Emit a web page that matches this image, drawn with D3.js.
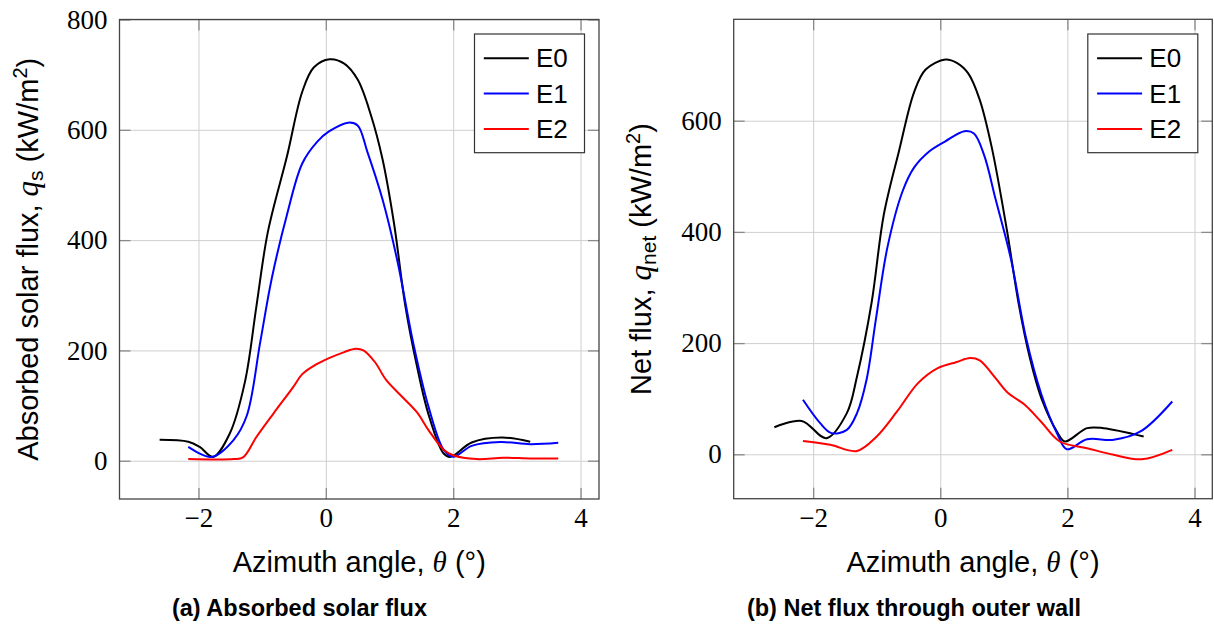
<!DOCTYPE html>
<html>
<head>
<meta charset="utf-8">
<script src="https://cdn.jsdelivr.net/npm/d3@7"></script>
<style>
  body { margin: 0; background: #fff; }
  svg { display: block; }
</style>
</head>
<body>
<div id="chart"></div>
<script>
/* Absorbed solar flux and net flux vs azimuth angle, three cases */

// legend / series names
const seriesNames = ["E0", "E1", "E2"];
const seriesColors = ["#000000", "#0000ff", "#ff0000"];

// (a) absorbed solar flux
const thetaA0 = [-2.61, -2.16, -1.98, -1.77, -1.51, -1.27, -1.09, -0.91, -0.61, -0.37, -0.19, 0.06, 0.29, 0.50, 0.71, 0.89, 1.07, 1.25, 1.43, 1.61, 1.85, 1.96, 2.29, 2.76, 3.21];
const qsE0 = [38, 34.5, 25, 7, 49, 143, 280, 415, 552, 669, 713, 728, 720, 691, 626, 547, 431, 280, 172, 85, 13, 7, 33, 42, 34.5];
const thetaA1 = [-2.16, -1.79, -1.45, -1.24, -1.03, -0.85, -0.61, -0.37, -0.13, 0.05, 0.35, 0.50, 0.65, 0.89, 1.13, 1.37, 1.61, 1.85, 2.0, 2.29, 2.74, 3.21, 3.65];
const qsE1 = [25, 7, 37.5, 82, 215, 330, 446, 539, 579, 597, 613, 608, 561, 474, 359, 215, 99, 20, 7, 27, 34, 30, 32.6];
const thetaA2 = [-2.16, -1.45, -1.30, -1.09, -0.82, -0.51, -0.37, -0.19, 0.05, 0.29, 0.47, 0.59, 0.77, 0.95, 1.19, 1.43, 1.61, 1.85, 2.0, 2.37, 2.79, 3.21, 3.65];
const qsE2 = [3, 3, 6, 43, 86, 134, 157, 172, 186, 197, 203, 200, 179, 146, 117, 88, 56, 20, 10, 3, 5.5, 4, 4];

// (b) net flux through outer wall
const thetaB0 = [-2.61, -2.18, -1.79, -1.47, -1.31, -1.08, -0.89, -0.65, -0.41, -0.23, 0.08, 0.26, 0.44, 0.62, 0.81, 1.05, 1.23, 1.41, 1.59, 1.84, 1.96, 2.31, 2.57, 3.20];
const qnetE0 = [48.6, 60, 29, 74, 140, 273, 430, 545, 652, 692, 710, 704, 685, 638, 552, 402, 273, 173, 101, 40, 23, 47, 47, 32];
const thetaB1 = [-2.16, -1.89, -1.71, -1.47, -1.31, -1.16, -1.01, -0.83, -0.59, -0.41, -0.17, 0.08, 0.38, 0.53, 0.69, 0.87, 1.11, 1.35, 1.59, 1.84, 1.99, 2.31, 2.73, 3.15, 3.65];
const qnetE1 = [98, 56, 38, 44, 74, 134, 245, 373, 474, 516, 545, 563, 581, 577, 538, 459, 352, 209, 108, 37, 9, 27, 26, 41, 95];
const thetaB2 = [-2.16, -1.73, -1.31, -1.0, -0.68, -0.35, -0.04, 0.26, 0.47, 0.62, 0.87, 1.05, 1.35, 1.59, 1.88, 2.31, 2.73, 3.17, 3.65];
const qnetE2 = [24, 17, 6, 32, 77, 128, 155, 166, 173, 169, 137, 112, 87, 58, 23, 11, -1, -9, 8];

// ticks
const xTicks = [-2, 0, 2, 4];
const yTicksA = [0, 200, 400, 600, 800];
const yTicksB = [0, 200, 400, 600];

const width = 1214, height = 624;
const sans = "'Liberation Sans', Arial, Helvetica, sans-serif";
const serif = "'Liberation Serif', 'Times New Roman', serif";

const svg = d3.select("#chart")
    .append("svg")
    .attr("width", width)
    .attr("height", height)
    .attr("viewBox", [0, 0, width, height]);

function zip(xs, ys) {
    return xs.map((t, i) => ({ t: t, v: ys[i] }));
}

function panel(opt) {
    const x = d3.scaleLinear().domain(opt.xDomain).range(opt.xRange);
    const y = d3.scaleLinear().domain(opt.yDomain).range(opt.yRange);
    const [x0, x1] = opt.xRange;
    const [y0, y1] = opt.yRange;   // y0 bottom, y1 top
    const g = svg.append("g");

    // grid
    g.append("g")
        .attr("transform", `translate(0,${y0})`)
        .call(d3.axisBottom(x).tickValues(xTicks).tickSize(-(y0 - y1)).tickFormat(""))
        .call(a => a.select(".domain").remove())
        .call(a => a.selectAll("line").attr("stroke", "#cfcfcf").attr("stroke-width", 1));
    g.append("g")
        .attr("transform", `translate(${x0},0)`)
        .call(d3.axisLeft(y).tickValues(opt.yTicks).tickSize(-(x1 - x0)).tickFormat(""))
        .call(a => a.select(".domain").remove())
        .call(a => a.selectAll("line").attr("stroke", "#cfcfcf").attr("stroke-width", 1));

    // tick marks (inside) and labels
    const tickStyle = a => {
        a.select(".domain").remove();
        a.attr("font-family", serif).attr("font-size", 27);
        a.selectAll("line").attr("stroke", "#8a8a8a").attr("stroke-width", 1.3);
        a.selectAll("text").attr("fill", "#000");
    };
    g.append("g")
        .attr("transform", `translate(0,${y0})`)
        .call(d3.axisBottom(x).tickValues(xTicks).tickSizeInner(-11).tickSizeOuter(0).tickPadding(9))
        .call(tickStyle);
    g.append("g")
        .attr("transform", `translate(0,${y1})`)
        .call(d3.axisTop(x).tickValues(xTicks).tickSizeInner(-11).tickSizeOuter(0).tickFormat(""))
        .call(tickStyle);
    g.append("g")
        .attr("transform", `translate(${x0},0)`)
        .call(d3.axisLeft(y).tickValues(opt.yTicks).tickSizeInner(-11).tickSizeOuter(0).tickPadding(12))
        .call(tickStyle);
    g.append("g")
        .attr("transform", `translate(${x1},0)`)
        .call(d3.axisRight(y).tickValues(opt.yTicks).tickSizeInner(-11).tickSizeOuter(0).tickFormat(""))
        .call(tickStyle);

    // curves
    const line = d3.line()
        .x(d => x(d.t))
        .y(d => y(d.v))
        .curve(d3.curveCatmullRom.alpha(0.5));
    opt.series.forEach((s, i) => {
        g.append("path")
            .datum(zip(s[0], s[1]))
            .attr("fill", "none")
            .attr("stroke", seriesColors[i])
            .attr("stroke-width", 2)
            .attr("stroke-linejoin", "round")
            .attr("d", line);
    });

    // frame
    g.append("rect")
        .attr("x", x0).attr("y", y1)
        .attr("width", x1 - x0).attr("height", y0 - y1)
        .attr("fill", "none")
        .attr("stroke", "#444")
        .attr("stroke-width", 1.3);

    // legend
    const lgW = 110, lgH = 118.7;
    const lgX = x1 - 14.5 - lgW, lgY = 34;
    const lg = g.append("g").attr("transform", `translate(${lgX},${lgY})`);
    lg.append("rect")
        .attr("width", lgW).attr("height", lgH)
        .attr("fill", "#fff").attr("stroke", "#333").attr("stroke-width", 1.2);
    seriesNames.forEach((name, i) => {
        const ly = 24.3 + i * 35.3;
        lg.append("line")
            .attr("x1", 9.3).attr("x2", 54.3)
            .attr("y1", ly).attr("y2", ly)
            .attr("stroke", seriesColors[i]).attr("stroke-width", 2);
        lg.append("text")
            .attr("x", 61.5).attr("y", ly + 9)
            .attr("font-family", sans).attr("font-size", 26)
            .text(name);
    });

    // x label
    const xl = g.append("text")
        .attr("x", (x0 + x1) / 2).attr("y", 572)
        .attr("text-anchor", "middle")
        .attr("font-family", sans).attr("font-size", 29);
    xl.append("tspan").text("Azimuth angle, ");
    xl.append("tspan").attr("font-family", serif).attr("font-style", "italic").text("θ");
    xl.append("tspan").text(" (°)");

    // y label
    const yl = g.append("text")
        .attr("transform", `translate(${opt.yLabelX},${(y0 + y1) / 2}) rotate(-90)`)
        .attr("text-anchor", "middle")
        .attr("font-family", sans).attr("font-size", 29);
    yl.append("tspan").text(opt.yLabel);
    yl.append("tspan").attr("font-family", serif).attr("font-style", "italic").attr("font-size", 31).text("q");
    yl.append("tspan").attr("font-size", 21).attr("dy", 5).text(opt.ySub);
    yl.append("tspan").attr("dy", -5).text(" (kW/m");
    yl.append("tspan").attr("font-size", 20).attr("dy", -11).text("2");
    yl.append("tspan").attr("dy", 11).text(")");

    // caption
    g.append("text")
        .attr("x", opt.capX).attr("y", 616)
        .attr("text-anchor", "middle")
        .attr("font-family", sans).attr("font-size", 23.5).attr("font-weight", "bold")
        .text(opt.caption);
}

panel({
    xDomain: [-3.24, 4.29], xRange: [119.5, 599],
    yDomain: [-69.4, 800], yRange: [499, 19.5],
    yTicks: yTicksA,
    series: [[thetaA0, qsE0], [thetaA1, qsE1], [thetaA2, qsE2]],
    yLabel: "Absorbed solar flux, ", ySub: "s", yLabelX: 37.5,
    caption: "(a) Absorbed solar flux", capX: 299.5
});

panel({
    xDomain: [-3.25, 4.28], xRange: [733.7, 1212.3],
    yDomain: [-79.9, 782.4], yRange: [498.7, 19.3],
    yTicks: yTicksB,
    series: [[thetaB0, qnetE0], [thetaB1, qnetE1], [thetaB2, qnetE2]],
    yLabel: "Net flux, ", ySub: "net", yLabelX: 650.5,
    caption: "(b) Net flux through outer wall", capX: 914
});
</script>
</body>
</html>
